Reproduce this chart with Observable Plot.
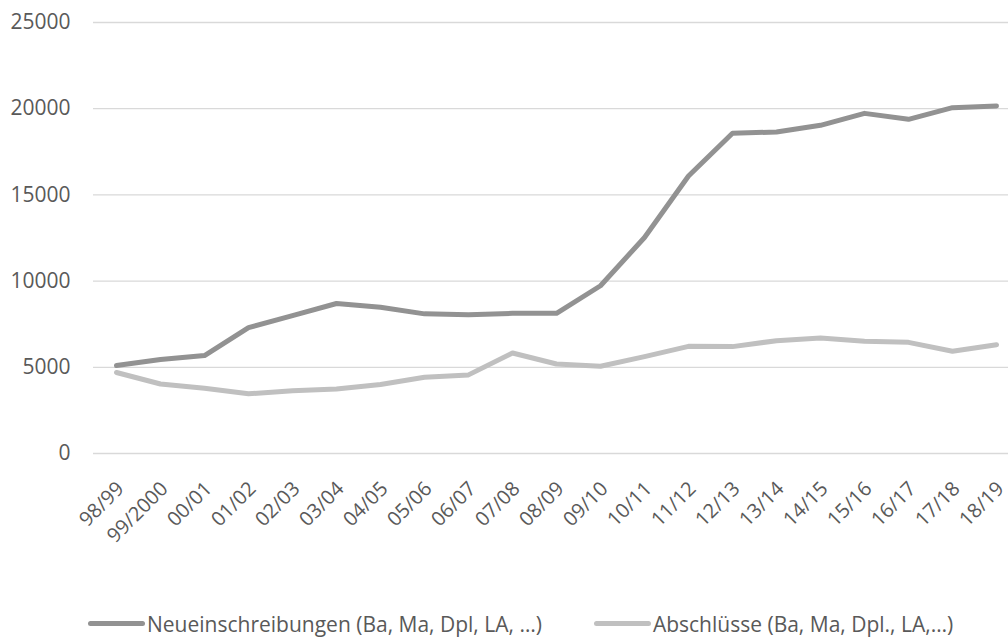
<!DOCTYPE html>
<html>
<head>
<meta charset="utf-8">
<script src="https://cdn.jsdelivr.net/npm/d3@7"></script>
<script src="https://cdn.jsdelivr.net/npm/@observablehq/plot@0.6"></script>
<style>
  html, body { margin: 0; padding: 0; background: #fff; }
  body { width: 1008px; height: 642px; overflow: hidden; font-family: "Open Sans", sans-serif; }
  #legend { display: flex; align-items: center; height: 37px; padding-left: 88px; color: #595959; font-size: 21px; }
  .item { display: flex; align-items: center; }
  .sw { width: 57px; height: 5px; border-radius: 3px; margin-right: 2px; }
</style>
</head>
<body>
<div id="chart"></div>
<div id="legend"></div>
<script>
const years = ["98/99","99/2000","00/01","01/02","02/03","03/04","04/05","05/06","06/07","07/08","08/09","09/10","10/11","11/12","12/13","13/14","14/15","15/16","16/17","17/18","18/19"];
const neueinschreibungen = [5100,5450,5680,7300,8000,8700,8480,8100,8050,8130,8130,9730,12530,16100,18575,18650,19035,19730,19385,20060,20155];
const abschluesse = [4700,4030,3780,3460,3640,3740,4000,4420,4560,5830,5190,5060,5620,6216,6200,6545,6700,6506,6448,5927,6313];
const seriesNames = ["Neueinschreibungen (Ba, Ma, Dpl, LA, …)", "Abschlüsse (Ba, Ma, Dpl., LA,…)"];
const seriesColors = ["#929292", "#c0c0c0"];
const yTicks = [0, 5000, 10000, 15000, 20000, 25000];

const rows = [];
years.forEach((y, i) => {
  rows.push({year: y, value: neueinschreibungen[i], series: seriesNames[0]});
  rows.push({year: y, value: abschluesse[i], series: seriesNames[1]});
});

const chart = Plot.plot({
  width: 1008,
  height: 605,
  marginTop: 22,
  marginBottom: 152,
  marginLeft: 93,
  marginRight: 0,
  style: {fontFamily: "Open Sans, sans-serif", fontSize: "21px", color: "#595959", background: "#fff"},
  x: {type: "point", domain: years, range: [113, 999], padding: 0, label: null},
  y: {domain: [0, 25000], label: null},
  color: {domain: seriesNames, range: seriesColors},
  marks: [
    Plot.ruleY(yTicks, {stroke: "#d9d9d9", strokeWidth: 1.3}),
    Plot.axisY({ticks: yTicks, tickSize: 0, tickPadding: 23, tickFormat: d => String(d), fontSize: 21, fill: "#595959"}),
    Plot.axisX({tickSize: 0, tickRotate: -45, tickPadding: 32, dx: 4, fontSize: 20, fill: "#595959", letterSpacing: "-0.5px"}),
    Plot.line(rows, {x: "year", y: "value", z: "series", stroke: "series", strokeWidth: 5, strokeLinecap: "round", strokeLinejoin: "round"})
  ]
});
document.getElementById("chart").appendChild(chart);

const legend = document.getElementById("legend");
seriesNames.forEach((name, i) => {
  const item = document.createElement("div");
  item.className = "item";
  if (i > 0) item.style.marginLeft = "52px";
  const sw = document.createElement("div");
  sw.className = "sw";
  sw.style.background = seriesColors[i];
  const t = document.createElement("span");
  t.textContent = name;
  item.appendChild(sw);
  item.appendChild(t);
  legend.appendChild(item);
});
</script>
</body>
</html>
